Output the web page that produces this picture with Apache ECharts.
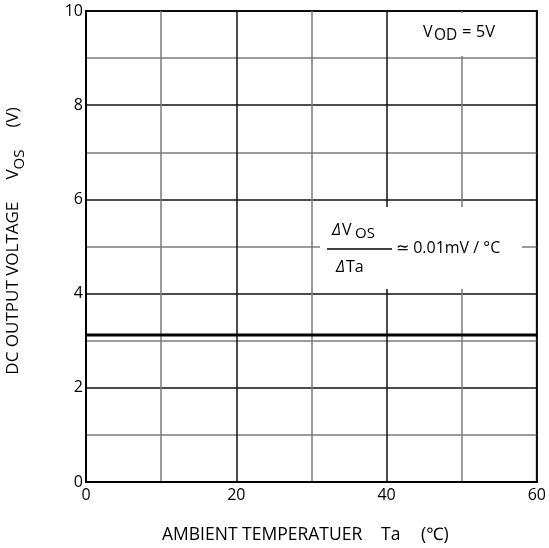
<!DOCTYPE html>
<html><head><meta charset="utf-8">
<script src="https://cdn.jsdelivr.net/npm/echarts@6/dist/echarts.min.js"></script>
<style>html,body{margin:0;padding:0;background:#fff}#c{width:549px;height:548px}</style>
</head><body><div id="c"></div>
<script>
var temps = [0, 10, 20, 30, 40, 50, 60];
var vos = [3.12, 3.12, 3.12, 3.12, 3.12, 3.12, 3.12];
var xTicks = [0, 20, 40, 60];
var yTicks = [0, 2, 4, 6, 8, 10];

var FONT = '"Open Sans", "Noto Sans", sans-serif';
var chart = echarts.init(document.getElementById('c'));
chart.setOption({
  animation: false,
  grid: {left: 86, right: 12, top: 11, bottom: 66, show: true, borderColor: '#000', borderWidth: 2},
  xAxis: {
    type: 'value', min: 0, max: 60, interval: 10,
    axisLine: {show: true, lineStyle: {color: '#000', width: 2}},
    axisTick: {show: false},
    axisLabel: {color: '#000', fontFamily: FONT, fontSize: 16, margin: 5,
      formatter: function (v) { return xTicks.indexOf(v) >= 0 ? String(v) : ''; }},
    splitLine: {show: true, lineStyle: {color: ['#111', '#7a7a7a'], width: 1.5}}
  },
  yAxis: {
    type: 'value', min: 0, max: 10, interval: 1,
    axisLine: {show: true, lineStyle: {color: '#000', width: 2}},
    axisTick: {show: false},
    axisLabel: {color: '#000', fontFamily: FONT, fontSize: 16, margin: 3,
      formatter: function (v) { return yTicks.indexOf(v) >= 0 ? String(v) : ''; }},
    splitLine: {show: true, lineStyle: {color: ['#111', '#7a7a7a'], width: 1.5}}
  },
  series: [{
    type: 'line', data: temps.map(function (t, i) { return [t, vos[i]]; }),
    symbol: 'none', lineStyle: {color: '#000', width: 3}
  }],
  graphic: [
    {type: 'rect', z: 10, shape: {x: 390, y: 13, width: 145, height: 43}, style: {fill: '#fff'}},
    {type: 'rect', z: 10, shape: {x: 320, y: 207, width: 202, height: 82}, style: {fill: '#fff'}},
    {type: 'text', z: 11, x: 162, y: 526, style: {text: 'AMBIENT TEMPERATUER', font: '17.5px ' + FONT, fill: '#000'}},
    {type: 'text', z: 11, x: 381, y: 526, style: {text: 'Ta', font: '17.5px ' + FONT, fill: '#000'}},
    {type: 'text', z: 11, x: 421, y: 526, style: {text: '(\u2103)', font: '17.5px ' + FONT, fill: '#000'}},
    {type: 'text', z: 11, x: 16, y: 241, rotation: Math.PI / 2,
      style: {
        text: '{a|DC OUTPUT VOLTAGE     V}{s|OS}{a|     (V)}',
        textAlign: 'center', textVerticalAlign: 'middle',
        rich: {
          a: {fontFamily: FONT, fontSize: 17, fill: '#000', lineHeight: 22, verticalAlign: 'top'},
          s: {fontFamily: FONT, fontSize: 15, fill: '#000', lineHeight: 22, verticalAlign: 'bottom'}
        }
      }},
    {type: 'text', z: 11, x: 423, y: 24, style: {text: 'V', font: '16px ' + FONT, fill: '#000'}},
    {type: 'text', z: 11, x: 434, y: 28, style: {text: 'OD', font: '15.5px ' + FONT, fill: '#000'}},
    {type: 'text', z: 11, x: 462, y: 24, style: {text: '= 5V', font: '16.5px ' + FONT, fill: '#000'}},
    {type: 'text', z: 11, x: 332, y: 222, style: {text: '\u0394', font: 'italic 16px ' + FONT, fill: '#000'}},
    {type: 'text', z: 11, x: 342, y: 222, style: {text: 'V', font: '16px ' + FONT, fill: '#000'}},
    {type: 'text', z: 11, x: 355, y: 226, style: {text: 'OS', font: '15px ' + FONT, fill: '#000'}},
    {type: 'line', z: 11, shape: {x1: 327, y1: 249, x2: 392, y2: 249}, style: {stroke: '#000', lineWidth: 1.5}},
    {type: 'text', z: 11, x: 336, y: 259, style: {text: '\u0394', font: 'italic 16px ' + FONT, fill: '#000'}},
    {type: 'text', z: 11, x: 346, y: 259, style: {text: 'Ta', font: '16px ' + FONT, fill: '#000'}},
    {type: 'text', z: 11, x: 396, y: 240, style: {text: '\u2243 0.01mV / \u00B0C', font: '16px ' + FONT, fill: '#000'}}
  ]
});
</script></body></html>
